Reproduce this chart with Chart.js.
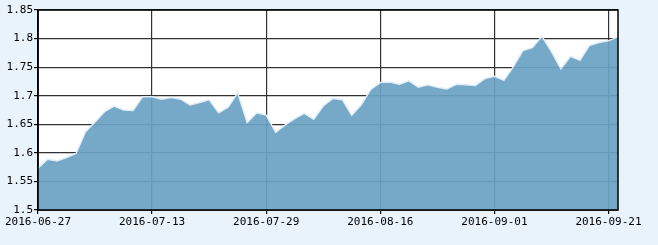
<!DOCTYPE html>
<html>
<head>
<meta charset="utf-8">
<script src="https://cdn.jsdelivr.net/npm/chart.js@4/dist/chart.umd.min.js"></script>
<style>
  html, body { margin: 0; padding: 0; background: #e8f3fc; }
  #wrap { width: 658px; height: 245px; position: relative; }
</style>
</head>
<body>
<div id="wrap"><canvas id="c" width="658" height="245"></canvas></div>
<script>
const dates = [
  '2016-06-27','2016-06-28','2016-06-29','2016-06-30',
  '2016-07-01','2016-07-04','2016-07-05','2016-07-06','2016-07-07','2016-07-08',
  '2016-07-11','2016-07-12','2016-07-13','2016-07-14','2016-07-15',
  '2016-07-18','2016-07-19','2016-07-20','2016-07-21','2016-07-22',
  '2016-07-25','2016-07-26','2016-07-27','2016-07-28','2016-07-29',
  '2016-08-01','2016-08-02','2016-08-03','2016-08-04','2016-08-05',
  '2016-08-08','2016-08-09','2016-08-10','2016-08-11','2016-08-12',
  '2016-08-15','2016-08-16','2016-08-17','2016-08-18','2016-08-19',
  '2016-08-22','2016-08-23','2016-08-24','2016-08-25','2016-08-26',
  '2016-08-29','2016-08-30','2016-08-31','2016-09-01','2016-09-02',
  '2016-09-05','2016-09-06','2016-09-07','2016-09-08','2016-09-09',
  '2016-09-12','2016-09-13','2016-09-14','2016-09-19','2016-09-20',
  '2016-09-21','2016-09-22'
];
const values = [
  1.573,1.589,1.586,1.592,1.599,1.637,1.654,1.672,1.682,1.675,
  1.674,1.698,1.698,1.694,1.697,1.694,1.684,1.688,1.693,1.670,
  1.680,1.705,1.653,1.670,1.666,1.636,1.649,1.660,1.669,1.659,
  1.682,1.695,1.693,1.666,1.684,1.711,1.723,1.724,1.720,1.726,
  1.715,1.719,1.715,1.712,1.720,1.719,1.718,1.730,1.734,1.727,
  1.751,1.779,1.784,1.804,1.777,1.747,1.769,1.762,1.788,1.793,
  1.796,1.803
];
const shownDates = ['2016-06-27','2016-07-13','2016-07-29','2016-08-16','2016-09-01','2016-09-21'];
const yMin = 1.5, yMax = 1.85, yStep = 0.05;

const bgPlugin = {
  id: 'bg',
  beforeDraw(chart) {
    const {ctx, chartArea: a} = chart;
    ctx.save();
    ctx.fillStyle = '#ffffff';
    ctx.fillRect(a.left, a.top, a.right - a.left, a.bottom - a.top);
    ctx.restore();
  },
  afterDatasetsDraw(chart) {
    const {ctx, chartArea: a} = chart;
    ctx.save();
    ctx.strokeStyle = '#000000';
    ctx.lineWidth = 1.5;
    ctx.strokeRect(a.left, a.top, a.right - a.left, a.bottom - a.top);
    ctx.restore();
  }
};

const font = { family: '"DejaVu Sans Mono", "Liberation Mono", monospace', size: 11 };

new Chart(document.getElementById('c'), {
  type: 'line',
  data: {
    labels: dates,
    datasets: [{
      data: values,
      fill: 'start',
      backgroundColor: 'rgba(108,163,195,0.93)',
      borderColor: 'rgba(225,238,250,0.95)',
      borderWidth: 1.5,
      pointRadius: 0,
      tension: 0
    }]
  },
  options: {
    responsive: false,
    animation: false,
    devicePixelRatio: 1,
    layout: { padding: { top: 10, right: 40, left: 0, bottom: 0 } },
    plugins: { legend: { display: false }, tooltip: { enabled: false } },
    scales: {
      x: {
        offset: false,
        afterFit(s) { s.height = 35; },
        grid: {
          offset: false,
          color: (c) => shownDates.includes(dates[c.index]) ? '#333333' : 'rgba(0,0,0,0)',
          tickColor: (c) => shownDates.includes(dates[c.index]) ? '#000000' : 'rgba(0,0,0,0)',
          lineWidth: 1.2,
          tickLength: 4,
          drawOnChartArea: true
        },
        border: { display: true, color: '#000', width: 1.5 },
        ticks: {
          autoSkip: false,
          maxRotation: 0,
          minRotation: 0,
          padding: 2,
          color: '#000',
          font: font,
          callback: (v, i) => shownDates.includes(dates[i]) ? dates[i] : ''
        }
      },
      y: {
        min: yMin,
        max: yMax,
        afterFit(s) { s.width = 38; },
        grid: { color: '#333333', tickColor: '#000', lineWidth: 1.2, tickLength: 4 },
        border: { display: true, color: '#000', width: 1.5 },
        ticks: {
          stepSize: yStep,
          padding: 1,
          color: '#000',
          font: font,
          callback: (v) => String(Math.round(v * 100) / 100)
        }
      }
    }
  },
  plugins: [bgPlugin]
});
</script>
</body>
</html>
